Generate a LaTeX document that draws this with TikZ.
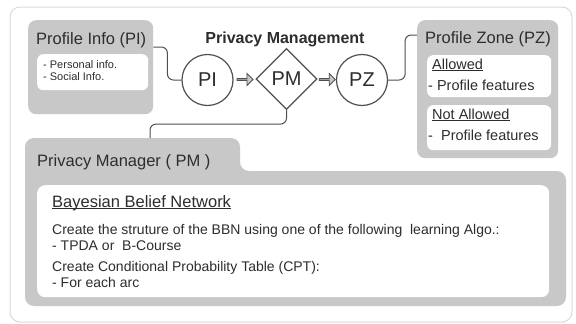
\documentclass[tikz,border=0pt]{standalone}
\usepackage{fontspec}
\setmainfont{Liberation Sans}
\usetikzlibrary{shapes.geometric,shapes.arrows,calc}
\definecolor{boxgray}{RGB}{200,200,200}
\definecolor{linegray}{RGB}{80,80,80}
\definecolor{txt}{RGB}{45,45,45}
\definecolor{outerline}{RGB}{218,218,218}
\newcommand{\myul}[1]{\setbox0\hbox{#1}\rlap{\rule[-1.8pt]{\wd0}{0.9pt}}\box0}
\tikzset{
  graybox/.style={fill=boxgray, rounded corners=8, inner sep=0pt, draw=none},
  whitebox/.style={fill=white, rounded corners=6, inner sep=0pt, draw=none},
  txtnode/.style={inner sep=0pt, text=txt, anchor=base west},
  bigtitle/.style={txtnode, font=\fontsize{16.5}{19}\selectfont},
  midtext/.style={txtnode, font=\fontsize{14.5}{17}\selectfont},
  bodytext/.style={txtnode, font=\fontsize{14}{16}\selectfont},
  smalltext/.style={txtnode, font=\fontsize{11}{12}\selectfont},
  circ/.style={circle, draw=linegray, line width=1.2pt, fill=white, minimum size=51pt, inner sep=0pt, text=txt, font=\fontsize{20}{22}\selectfont},
  dia/.style={diamond, draw=linegray, line width=1.2pt, fill=white, minimum size=61pt, inner sep=0pt, text=txt, font=\fontsize{20}{22}\selectfont},
  blockarrow/.style={single arrow, draw=linegray, fill=boxgray, line width=0.9pt, minimum width=12pt, single arrow head extend=2.5pt, minimum height=16pt, inner sep=0pt},
  conn/.style={draw=linegray, line width=1pt, rounded corners=6pt}
}
\begin{document}
\begin{tikzpicture}[x=1pt,y=-1pt]
\useasboundingbox (0,0) rectangle (576,324);
\draw[outerline, fill=white, line width=1pt, rounded corners=10pt] (10,7) rectangle (572,322);

% Profile Info
\node[graybox, minimum width=125pt, minimum height=94pt, anchor=north west] (piBox) at (28,20) {};
\node[whitebox, minimum width=111pt, minimum height=36pt, anchor=north west] (piIn) at (37,54) {};
\node[bigtitle] (piTitle) at (36,44) {Profile Info (PI)};
\node[smalltext] (piT1) at (43,68) {- Personal info.};
\node[smalltext] (piT2) at (43,80) {- Social Info.};

% Profile Zone
\node[graybox, minimum width=141pt, minimum height=138pt, anchor=north west] (pzBox) at (417,20) {};
\node[whitebox, minimum width=124pt, minimum height=42pt, anchor=north west] (pzIn1) at (427,55) {};
\node[whitebox, minimum width=124pt, minimum height=45pt, anchor=north west] (pzIn2) at (427,105) {};
\node[bigtitle] (pzTitle) at (425,43) {Profile Zone (PZ)};
\node[midtext] (allow) at (432,69) {\myul{Allowed}};
\node[midtext] (allowF) at (428,90) {- Profile features};
\node[midtext] (nallow) at (432,119) {\myul{Not Allowed}};
\node[midtext] (nallowF) at (428,140) {-\ \ Profile features};

% Privacy Management
\node[txtnode, anchor=base, font=\bfseries\fontsize{16}{19}\selectfont] (pmTitle) at (285,43) {Privacy Management};
\node[circ] (piC) at (207.5,80) {PI};
\node[dia] (pm) at (286.5,79) {PM};
\node[circ] (pzC) at (362,80) {PZ};
\node[blockarrow] (ar1) at ($(piC.east)!0.5!(pm.west)$) {};
\node[blockarrow] (ar2) at ($(pm.east)!0.5!(pzC.west)$) {};

% Privacy Manager
\fill[boxgray, rounded corners=9pt] (25,306) -- (25,138) -- (240,138) -- (240,171) -- (566,171) -- (566,306) -- cycle;
\coordinate (pmTab) at (150,138);
\node[whitebox, rounded corners=8pt, minimum width=512pt, minimum height=112pt, anchor=north west] (pmIn) at (37,185) {};
\node[bigtitle] (pmgrTitle) at (37,166) {Privacy Manager ( PM )};
\node[bigtitle] (bbn) at (52,207) {\myul{Bayesian Belief Network}};
\node[bodytext] (b1) at (52,234) {Create the struture of the BBN using one of the following\ \ learning Algo.:};
\node[bodytext] (b2) at (52,250) {- TPDA or\ \ B-Course};
\node[bodytext] (b3) at (52,271.5) {Create Conditional Probability Table (CPT):};
\node[bodytext] (b4) at (52,287) {- For each arc};

% connectors
\draw[conn] ([yshift=-27pt]piBox.north east) -- ++(14,0) |- (piC.west);
\draw[conn] (pzC.east) -- ++(17,0) |- ([yshift=-15pt]pzBox.north west);
\draw[conn] (pm.south) -- ++(0,14) -| (pmTab);
\end{tikzpicture}
\end{document}
